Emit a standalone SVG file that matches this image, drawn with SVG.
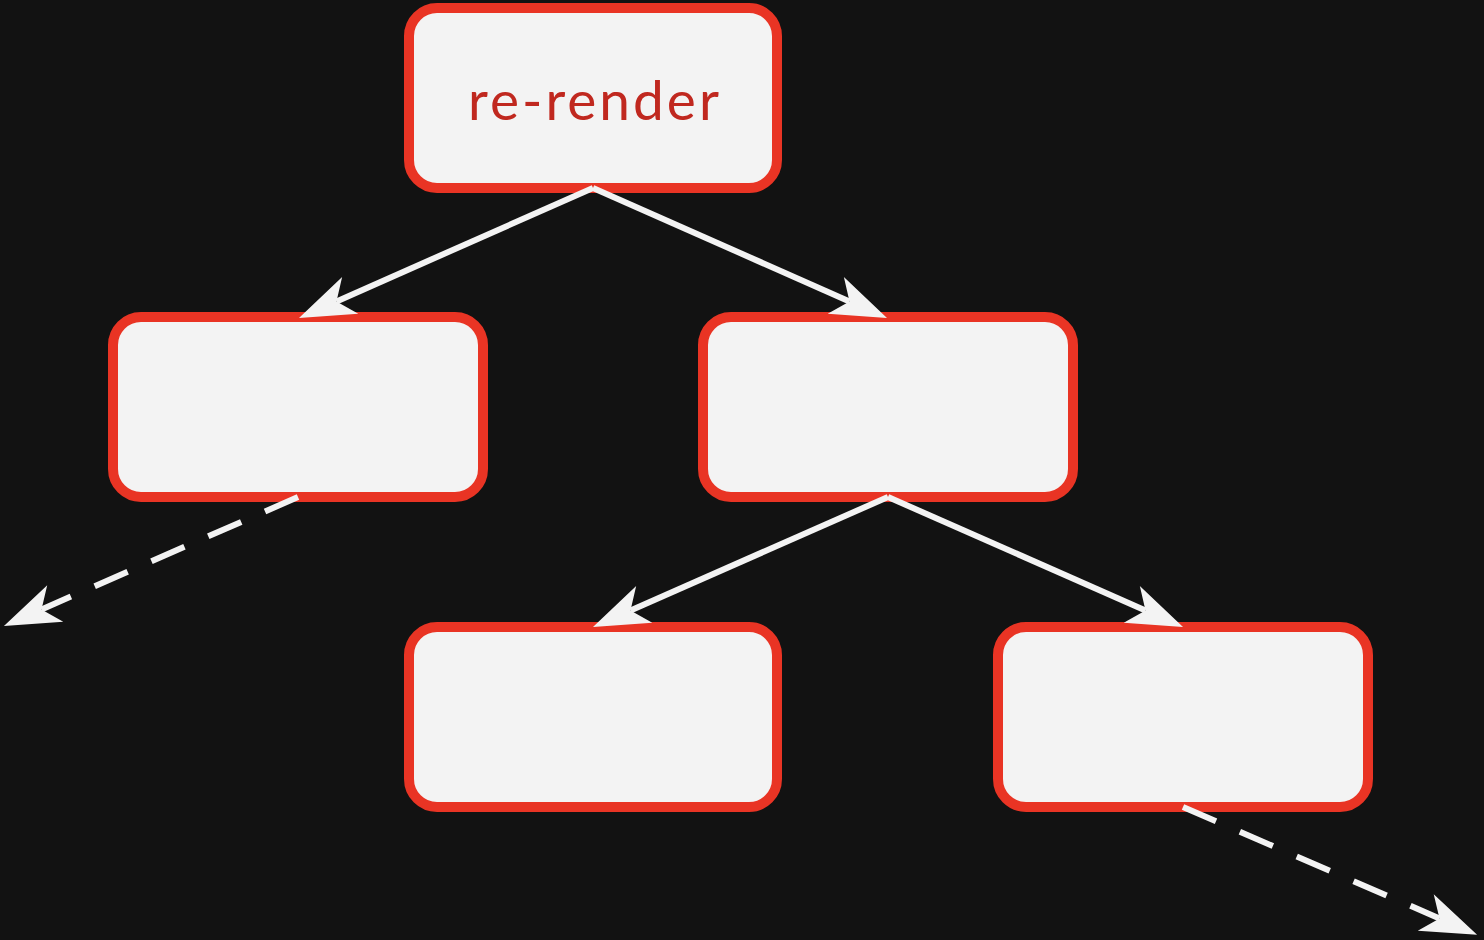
<svg xmlns="http://www.w3.org/2000/svg" width="1484" height="940" viewBox="0 0 1484 940">
  <style>
    .node rect { fill: #f3f3f3; stroke: #e93424; stroke-width: 10; }
    .label { font-family: Lato, "Open Sans", sans-serif; font-size: 55px; letter-spacing: 3px; fill: #c0281f; text-anchor: middle; }
    .edge { fill: none; stroke: #f3f3f3; stroke-width: 6; }
    .dashed { stroke-dasharray: 36 26; stroke-width: 6; }
  </style>
  <defs>
    <marker id="arrow" markerUnits="userSpaceOnUse" viewBox="-5 -25 70 50" markerWidth="70" markerHeight="50" refX="15" refY="0" orient="auto" overflow="visible">
      <path d="M56,0 L0,-20 L15,0 L0,20 Z" fill="#f3f3f3" stroke="none"/>
    </marker>
  </defs>
  <rect width="1484" height="940" fill="#121212"/>
  <g id="node-root" class="node">
    <rect x="409" y="8" width="368" height="180" rx="28"/>
    <text class="label" x="595" y="120">re-render</text>
  </g>
  <g id="node-a" class="node">
    <rect x="113" y="317" width="370" height="180" rx="28"/>
  </g>
  <g id="node-b" class="node">
    <rect x="703" y="317" width="370" height="180" rx="28"/>
  </g>
  <g id="node-c" class="node">
    <rect x="409" y="627" width="368" height="180" rx="28"/>
  </g>
  <g id="node-d" class="node">
    <rect x="998" y="627" width="370" height="180" rx="28"/>
  </g>
  <g id="connectors">
    <path class="edge" d="M593,188 L336.5,301.4" marker-end="url(#arrow)"/>
    <path class="edge" d="M593,188 L849.5,301.4" marker-end="url(#arrow)"/>
    <path class="edge" d="M888,497 L630.5,610.4" marker-end="url(#arrow)"/>
    <path class="edge" d="M888,497 L1145.5,610.4" marker-end="url(#arrow)"/>
    <path class="edge dashed" d="M298,497 L41.5,609.5" marker-end="url(#arrow)"/>
    <path class="edge dashed" d="M1183,807 L1439.5,918.5" marker-end="url(#arrow)"/>
  </g>
</svg>
